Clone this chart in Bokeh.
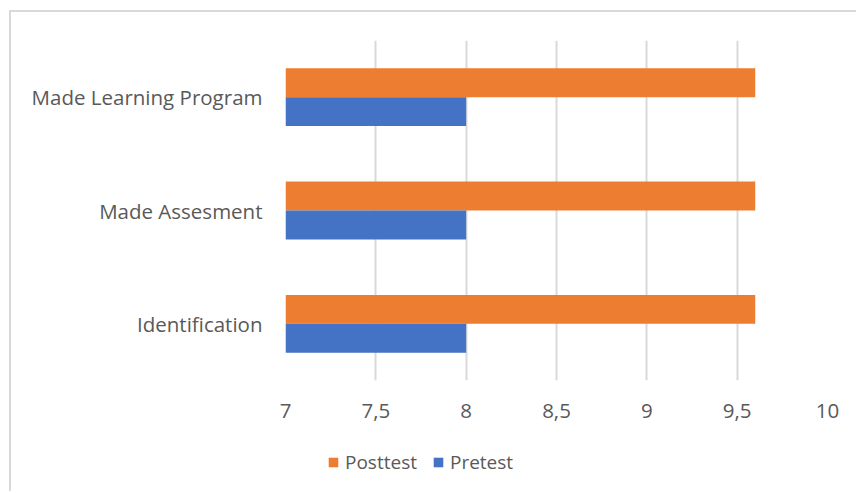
from bokeh.plotting import figure
from bokeh.layouts import column
from bokeh.models import FactorRange, Range1d, FixedTicker, Legend, LegendItem, ColumnDataSource
from bokeh.transform import dodge
from bokeh.embed import file_html
from bokeh.resources import INLINE

categories = ["Identification", "Made Assesment", "Made Learning Program"]
posttest = [9.6, 9.6, 9.6]
pretest = [8.0, 8.0, 8.0]
tick_values = [7, 7.5, 8, 8.5, 9, 9.5, 10]
tick_labels = ["7", "7,5", "8", "8,5", "9", "9,5", "10"]
series_names = ["Posttest", "Pretest"]
series_cols = ["post", "pre"]
series_colors = ["#ED7D31", "#4472C4"]
series_offsets = [0.1275, -0.1275]

FONT = "Open Sans"
TXT = "#595959"
FS = "20.5px"

src = ColumnDataSource(dict(cat=categories, post=posttest, pre=pretest))
base = tick_values[0]


def add_bars(fig, visible=True):
    rs = []
    for col, color, off in zip(series_cols, series_colors, series_offsets):
        rs.append(fig.hbar(y=dodge("cat", off, range=fig.y_range), left=base, right=col,
                           height=0.255, source=src, fill_color=color, line_color=None,
                           visible=visible))
    return rs


p = figure(width=845, height=418, output_backend="svg", toolbar_location=None,
           y_range=FactorRange(factors=categories, range_padding=0),
           x_range=Range1d(7, 10),
           min_border_left=274, min_border_right=29, min_border_top=28, min_border_bottom=50)
add_bars(p)

p.outline_line_color = None
p.ygrid.grid_line_color = None
p.xgrid.grid_line_color = "#d9d9d9"
p.xgrid.grid_line_width = 2

p.xaxis.ticker = FixedTicker(ticks=tick_values)
p.xaxis.major_label_overrides = {v: l for v, l in zip(tick_values, tick_labels)}
for ax in (p.xaxis[0], p.yaxis[0]):
    ax.axis_line_color = None
    ax.major_tick_line_color = None
    ax.minor_tick_line_color = None
    ax.major_tick_out = 0
    ax.major_tick_in = 0
    ax.major_label_text_font = FONT
    ax.major_label_text_font_size = FS
    ax.major_label_text_color = TXT
p.xaxis.major_label_standoff = 23
p.yaxis.major_label_standoff = 23
p.yaxis.group_text_font_size = "0px"

# legend strip below the chart (hidden copies of the bars act as legend sources)
p2 = figure(width=845, height=61, output_backend="svg", toolbar_location=None,
            x_axis_location=None, y_axis_location=None,
            y_range=FactorRange(factors=categories, range_padding=0),
            x_range=Range1d(7, 10),
            min_border_left=0, min_border_right=0, min_border_top=0, min_border_bottom=0)
p2.outline_line_color = None
p2.xgrid.visible = False
p2.ygrid.visible = False
hidden = add_bars(p2, visible=False)
items = [LegendItem(label=name, renderers=[r]) for name, r in zip(series_names, hidden)]

legend = Legend(items=items, orientation="horizontal", location=(42, 16),
                label_text_font=FONT, label_text_font_size="19px", label_text_color=TXT,
                glyph_width=12, glyph_height=12, label_standoff=6, spacing=15,
                padding=0, margin=0, border_line_color=None, background_fill_alpha=0,
                inactive_fill_alpha=0)
p2.add_layout(legend, "center")

layout = column(p, p2, spacing=0)
layout.styles = {"border-left": "2px solid #d9d9d9", "border-top": "2px solid #d9d9d9",
                 "box-sizing": "border-box", "margin-left": "9px", "margin-top": "10px"}

open("out.html", "w").write(file_html(layout, INLINE))
